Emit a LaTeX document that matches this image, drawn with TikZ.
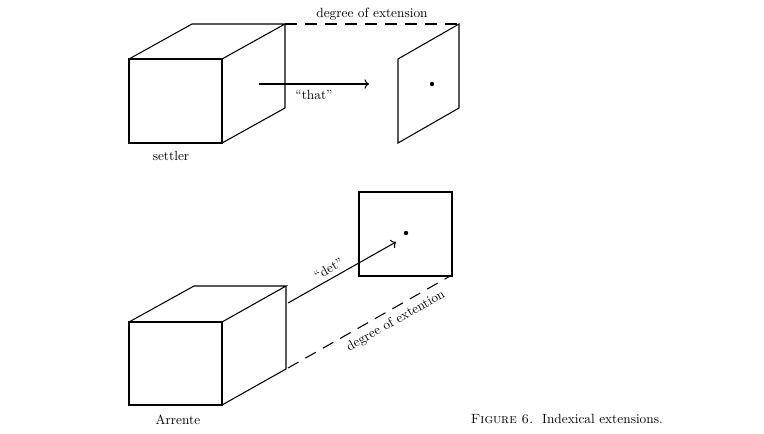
\documentclass[tikz,border=0pt]{standalone}
\usetikzlibrary{arrows.meta,calc}

\begin{document}
\begin{tikzpicture}[x=0.75pt,y=-0.75pt,line width=0.8pt]

			\useasboundingbox (0,0) rectangle (764,433);

			% settler cube
			\coordinate (a) at (129, 59);
			\coordinate (b) at (222, 59);
			\coordinate (c) at (222, 143);
			\coordinate (d) at (129, 143);
			\coordinate (e) at (192, 24);
			\coordinate (f) at (285, 24);
			\coordinate (g) at (285, 108);
			\draw[black] (a) -- (b) -- (c) -- (d) -- cycle;
			\draw[black] (a) -- (e) -- (f) -- (b);
			\draw[black] (f) -- (g) -- (c);

			% slanted plane
			\coordinate (p) at (398, 59);
			\coordinate (q) at (459, 24);
			\coordinate (r) at (459, 108);
			\coordinate (s) at (398, 143);
			\draw[black] (p) -- (q) -- (r) -- (s) -- cycle;
			\fill[black] (432, 84) circle[radius=2.2];

			\coordinate (t1) at (259, 84);
			\coordinate (t2) at (369, 84);
			\draw[black,->] (t1) -- (t2) node[midway,below=1pt] (that) {``that''};
			\draw[black,dash pattern=on 9pt off 6pt] (f) -- (q) node[midway,above=-1pt] (ext1) {degree of extension};
			\node (settler) at (171, 156) {settler};

			% Arrente cube
			\coordinate (h) at (129, 322);
			\coordinate (i) at (222, 322);
			\coordinate (j) at (222, 405);
			\coordinate (k) at (129, 405);
			\coordinate (l) at (194, 286);
			\coordinate (m) at (286, 286);
			\coordinate (n) at (286, 369);
			\draw[black] (h) -- (i) -- (j) -- (k) -- cycle;
			\draw[black] (h) -- (l) -- (m) -- (i);
			\draw[black] (m) -- (n) -- (j);

			% square
			\coordinate (u) at (359, 192);
			\coordinate (v) at (452, 276);
			\draw[black] (u) rectangle (v);
			\fill[black] (406, 233) circle[radius=2.2];

			\coordinate (w1) at (288, 303);
			\coordinate (w2) at (396, 242);
			\draw[black,->] (w1) -- (w2) node[pos=0.42,above,sloped] (det) {``det''};
			\coordinate (z1) at (288, 368);
			\coordinate (z2) at (452, 275);
			\draw[black,dash pattern=on 9pt off 6pt] (z1) -- (z2) node[pos=0.62,below=1pt,sloped] (ext2) {degree of extention};
			\node (arrente) at (178, 420) {Arrente};

			\node[anchor=west] (caption) at (466, 419) {\textsc{Figure 6.}\ \ Indexical extensions.};

		\end{tikzpicture}
\end{document}
